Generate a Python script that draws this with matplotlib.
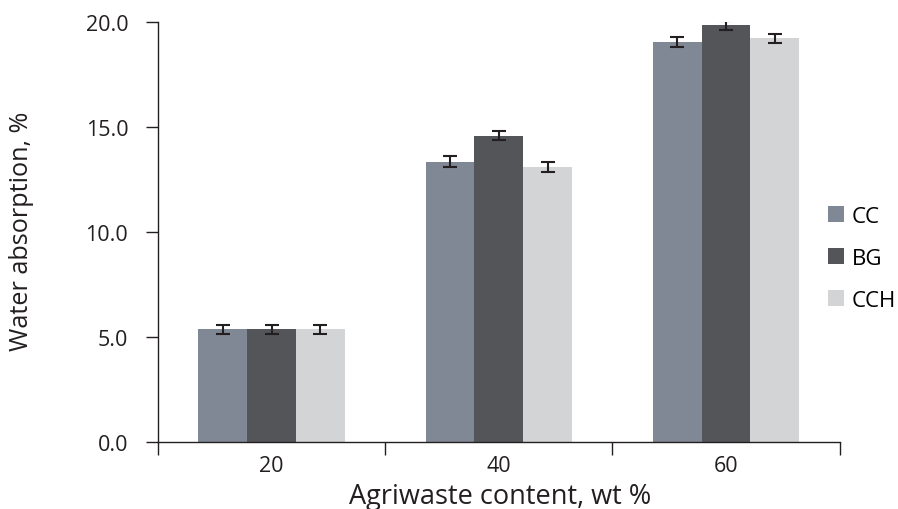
import matplotlib
matplotlib.use("Agg")
import matplotlib.pyplot as plt
import numpy as np

plt.rcParams['font.family'] = ['Open Sans', 'DejaVu Sans']

categories = ["20", "40", "60"]
series = ["CC", "BG", "CCH"]
cc = [5.38, 13.35, 19.06]
bg = [5.38, 14.59, 19.84]
cch = [5.38, 13.10, 19.22]
cc_err = [0.22, 0.25, 0.23]
bg_err = [0.22, 0.23, 0.20]
cch_err = [0.22, 0.23, 0.23]
colors = ["#818895", "#545558", "#d3d4d6"]

fig = plt.figure(figsize=(8.98, 5.10), dpi=100)
ax = fig.add_axes([0.176, 0.131, 0.759, 0.824])

x = np.arange(len(categories))
w = 0.215
for i, (vals, errs, col, name) in enumerate(zip([cc, bg, cch], [cc_err, bg_err, cch_err], colors, series)):
    ax.bar(x + (i - 1) * w, vals, w, color=col, label=name, zorder=2)
    ax.errorbar(x + (i - 1) * w, vals, yerr=errs, fmt='none', ecolor='#231f20',
                elinewidth=1.5, capsize=5, capthick=1.5, zorder=3)

ax.set_xlim(-0.5, 2.5)
ax.set_ylim(0, 20)
ax.set_yticks([0, 5, 10, 15, 20])
ax.set_yticklabels(["0.0", "5.0", "10.0", "15.0", "20.0"])
ax.set_xticks(x)
ax.set_xticklabels(categories)
ax.set_xticks([-0.5, 0.5, 1.5, 2.5], minor=True)
ax.tick_params(axis='x', which='major', length=0, labelsize=15.5, pad=9.5, colors='#231f20')
ax.tick_params(axis='x', which='minor', length=9, width=1, color='#231f20', direction='out')
ax.tick_params(axis='y', length=9, width=1, color='#231f20', labelsize=15.5, pad=12.5, labelcolor='#231f20')
for s in ['top', 'right']:
    ax.spines[s].set_visible(False)
for s in ['left', 'bottom']:
    ax.spines[s].set_color('#231f20')
    ax.spines[s].set_linewidth(1)

fig.text(22 / 898, 1 - 231 / 510, "Water absorption, %", fontsize=18.2, color='#231f20',
         rotation=90, ha='center', va='center', rotation_mode='anchor')
fig.text(500 / 898, 1 - 497 / 510, "Agriwaste content, wt %", fontsize=19.5, color='#231f20',
         ha='center', va='center')

ax.legend(loc='center left', bbox_to_anchor=(0.954, 0.438), frameon=False, fontsize=16,
          handlelength=0.7, handleheight=0.7, handletextpad=0.35, labelspacing=0.95)

fig.savefig("out.png", dpi=100)
